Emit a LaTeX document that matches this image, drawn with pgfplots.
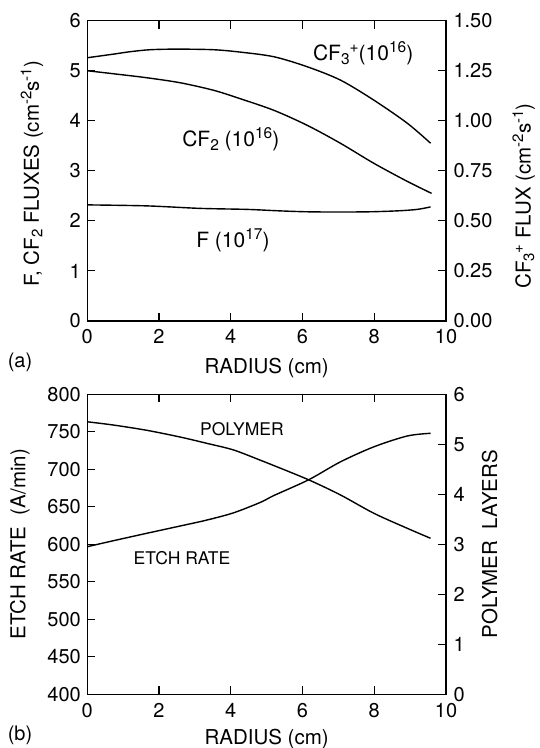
\documentclass[border=0pt]{standalone}
\usepackage{fontspec}
\setmainfont{TeX Gyre Heros}
\usepackage{pgfplots}
\pgfplotsset{compat=1.18}
\pgfplotsset{
  base/.style={
    scale only axis, width=358.7pt, height=300.3pt,
    anchor=south west, clip=false,
    xmin=0, xmax=10, xtick={0,2,...,10},
    tick align=inside, major tick length=8pt,
    axis line style={line width=1.1pt},
    every tick/.style={line width=1.1pt, black},
    tick label style={font=\fontsize{20}{24}\selectfont},
    label style={font=\fontsize{20.5}{24}\selectfont},
    /pgf/number format/assume math mode=true,
    xticklabel style={yshift=-5pt},
    yticklabel style={xshift=-3pt},
  },
  rbase/.style={
    base, axis y line*=right, axis x line=none,
    yticklabel style={xshift=7pt},
  },
  crv/.style={black, line width=1.4pt, smooth},
}
% scripts for axis labels (20.5pt)
\newcommand{\sA}[1]{\raisebox{7.5pt}{\fontsize{15}{16}\selectfont #1}}
\newcommand{\bA}[1]{\raisebox{-3.5pt}{\fontsize{15}{16}\selectfont #1}}
% scripts for chemistry labels (21pt)
\newcommand{\sB}[1]{\raisebox{8pt}{\fontsize{15.5}{16}\selectfont #1}}
\newcommand{\bB}[1]{\raisebox{-4pt}{\fontsize{15.5}{16}\selectfont #1}}
\newcommand{\chem}{\fontsize{21}{24}\selectfont}
\newcommand{\lab}{\fontsize{17.5}{20}\selectfont}
\begin{document}
\begin{tikzpicture}
\useasboundingbox (0,0) rectangle (539pt,748pt);
% ---------------- panel (a) ----------------
\begin{axis}[base, at={(87.3pt,427pt)},
  ymin=0, ymax=6, ytick={0,1,...,6}, ytick pos=left,
  xlabel={RADIUS (cm)},
  xlabel style={at={(rel axis cs:0.5,-0.176)}, anchor=base},
  ylabel={F, CF\bA{2} FLUXES (cm\sA{-2}s\sA{-1})},
  ylabel style={at={(rel axis cs:-0.154,0.49)}, anchor=center},
]
\addplot[crv] coordinates {
 (0,5.00) (0.73,4.94) (1.66,4.86) (2.59,4.76) (3.52,4.61) (4.27,4.44)
 (5.2,4.21) (6.13,3.91) (7.06,3.55) (7.99,3.15) (8.92,2.79) (9.6,2.55)};
\addplot[crv] coordinates {
 (0,2.32) (1.66,2.30) (3.15,2.25) (4.45,2.23) (5.38,2.20) (6.3,2.18)
 (7.7,2.18) (8.63,2.20) (9.2,2.23) (9.57,2.28)};
\node[font=\chem, anchor=base] at (axis cs:7.69,5.21) {CF\bB{3}\sB{+}(10\sB{16})};
\node[font=\chem, anchor=base] at (axis cs:4.0,3.48) {CF\bB{2} (10\sB{16})};
\node[font=\chem, anchor=base] at (axis cs:4.06,1.46) {F (10\sB{17})};
\end{axis}
\begin{axis}[rbase, at={(87.3pt,427pt)},
  ymin=0, ymax=1.5, ytick={0,0.25,...,1.5},
  yticklabel style={/pgf/number format/.cd, fixed, fixed zerofill, precision=2},
  ylabel={CF\bA{3}\sA{+} FLUX (cm\sA{-2}s\sA{-1})},
  ylabel style={at={(rel axis cs:1.217,0.416)}, anchor=center},
]
\addplot[crv] coordinates {
 (0,1.315) (0.73,1.333) (1.19,1.345) (1.75,1.355) (2.5,1.358) (3.52,1.355)
 (4.27,1.343) (5.2,1.320) (6.13,1.270) (7.06,1.203) (7.99,1.103) (8.92,0.988) (9.57,0.888)};
\end{axis}
% ---------------- panel (b) ----------------
\begin{axis}[base, at={(87.3pt,53.7pt)}, height=300pt,
  ymin=400, ymax=800, ytick={400,450,...,800}, ytick pos=left,
  xlabel={RADIUS (cm)},
  xlabel style={at={(rel axis cs:0.5,-0.166)}, anchor=base},
  ylabel={ETCH RATE\ \ (A/min)},
  ylabel style={at={(rel axis cs:-0.188,0.5)}, anchor=center},
]
\addplot[crv] coordinates {
 (0,596.8) (0.73,604.8) (1.66,614.7) (2.59,624.4) (3.34,632.4) (4.08,642)
 (4.83,656) (5.2,665) (6.17,686) (7.06,710) (7.99,730) (8.92,744.4) (9.57,748)};
\node[font=\lab, anchor=base] at (axis cs:4.31,744.4) {POLYMER};
\node[font=\lab, anchor=base] at (axis cs:2.64,572.4) {ETCH RATE};
\end{axis}
\begin{axis}[rbase, at={(87.3pt,53.7pt)}, height=300pt,
  ymin=0, ymax=6, ytick={0,1,...,6},
  ylabel={POLYMER\ \ LAYERS},
  ylabel style={at={(rel axis cs:1.122,0.5)}, anchor=center},
]
\addplot[crv] coordinates {
 (0,5.450) (0.73,5.385) (1.66,5.280) (2.59,5.145) (3.34,5.018) (4.08,4.886)
 (4.83,4.680) (5.2,4.575) (6.17,4.290) (7.06,3.986) (7.99,3.620) (8.92,3.320) (9.57,3.120)};
\end{axis}
\node[font=\fontsize{20}{24}\selectfont, anchor=base] at (20pt,380pt) {(a)};
\node[font=\fontsize{20}{24}\selectfont, anchor=base] at (20pt,8pt) {(b)};
\end{tikzpicture}
\end{document}
